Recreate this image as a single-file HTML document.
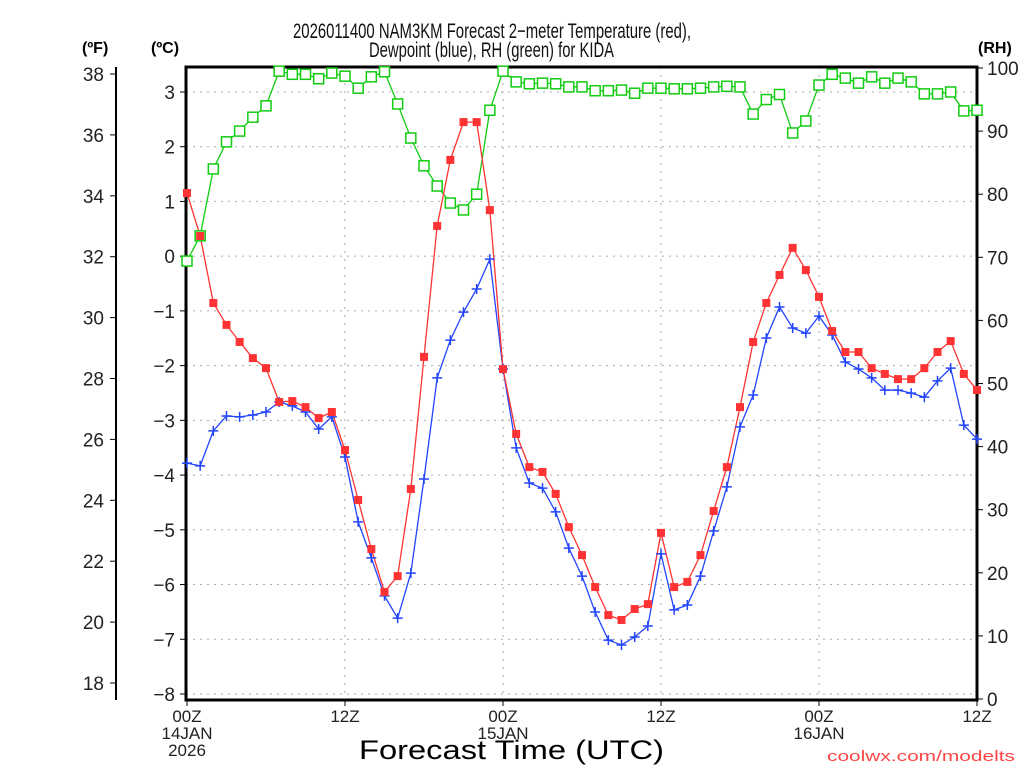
<!DOCTYPE html>
<html><head><meta charset="utf-8"><style>
body{margin:0;background:#fff;}
svg{display:block;font-family:"Liberation Sans",sans-serif;}
</style></head><body>
<svg id="chart" width="1024" height="768" viewBox="0 0 1024 768">
<g id="grid"></g>
<g id="axes"></g>
<g id="series"></g>
<text x="293" y="38" font-size="21" fill="#111" textLength="398" lengthAdjust="spacingAndGlyphs">2026011400 NAM3KM Forecast 2−meter Temperature (red),</text>
<text x="369" y="57" font-size="21" fill="#111" textLength="245" lengthAdjust="spacingAndGlyphs">Dewpoint (blue), RH (green) for KIDA</text>
<text x="82" y="53" font-size="16" font-weight="bold">(ºF)</text>
<text x="151" y="53" font-size="16" font-weight="bold">(ºC)</text>
<text x="978" y="53" font-size="16" font-weight="bold">(RH)</text>
<text x="359" y="759" font-size="27" textLength="305" lengthAdjust="spacingAndGlyphs">Forecast Time (UTC)</text>
<text x="827" y="761" font-size="15" fill="#ff4444" textLength="188" lengthAdjust="spacingAndGlyphs">coolwx.com/modelts</text>
</svg>
<script>
const tempF=[34.09,32.68,30.48,29.76,29.20,28.67,28.34,27.23,27.26,27.06,26.70,26.90,25.65,24.01,22.40,20.99,21.51,24.37,28.71,33.01,35.18,36.42,36.42,33.53,28.31,26.18,25.09,24.93,24.21,23.12,22.20,21.15,20.23,20.07,20.43,20.59,22.93,21.15,21.32,22.20,23.65,25.09,27.06,29.20,30.48,31.40,32.29,31.56,30.68,29.56,28.87,28.87,28.34,28.15,27.98,27.98,28.34,28.87,29.23,28.15,27.62];
const dewF=[25.22,25.13,26.28,26.77,26.74,26.80,26.90,27.23,27.10,26.90,26.34,26.74,25.42,23.29,22.11,20.86,20.13,21.61,24.70,28.02,29.26,30.18,30.94,31.92,28.31,25.72,24.57,24.40,23.62,22.43,21.51,20.33,19.41,19.25,19.51,19.87,22.24,20.40,20.56,21.51,22.99,24.44,26.41,27.46,29.33,30.35,29.66,29.49,30.05,29.43,28.54,28.31,28.02,27.62,27.62,27.52,27.39,27.92,28.34,26.47,26.01];
const rh=[69.4,73.4,84.0,88.3,90.0,92.2,94.0,99.5,99.0,99.0,98.3,99.2,98.7,96.8,98.6,99.4,94.3,88.9,84.5,81.3,78.6,77.5,80.0,93.3,99.5,97.8,97.5,97.6,97.5,97.0,97.0,96.4,96.4,96.5,96.0,96.8,96.8,96.7,96.7,96.8,97.0,97.1,97.0,92.7,95.0,95.8,89.7,91.6,97.3,99.0,98.4,97.6,98.6,97.6,98.4,97.8,95.9,95.9,96.2,93.2,93.3];
const fTicks=[18,20,22,24,26,28,30,32,34,36,38];
const cTicks=[-8,-7,-6,-5,-4,-3,-2,-1,0,1,2,3];
const rhTicks=[0,10,20,30,40,50,60,70,80,90,100];
const xTickHours=[0,12,24,36,48,60];
const xTickLabels=[["00Z","14JAN","2026"],["12Z"],["00Z","15JAN"],["12Z"],["00Z","16JAN"],["12Z"]];
const NS="http://www.w3.org/2000/svg";
const L=186,R=977,T=67,B=700;
const xS=h=>187+h*(790/60);
const yF=f=>683-(f-18)*30.45;
const yC=c=>694-(c+8)*54.73;
const yRH=r=>699-r*6.31;
function mk(p,tag,a){const e=document.createElementNS(NS,tag);for(const k in a)e.setAttribute(k,a[k]);p.appendChild(e);return e;}
const grid=document.getElementById('grid'),axes=document.getElementById('axes'),ser=document.getElementById('series');
cTicks.forEach(c=>{const y=yC(c);
 const g=mk(grid,'line',{x1:L,x2:R,y1:y,y2:y,stroke:'#aaa','stroke-dasharray':'2,5'});
 
 const t=mk(axes,'line',{x1:L-6,x2:L,y1:y,y2:y,stroke:'#000'});
 
 const lb=mk(axes,'text',{x:L-11,y:y+7,'font-size':19,'text-anchor':'end',fill:'#222'});lb.textContent=(c<0?'−':'')+Math.abs(c);
 
});
xTickHours.forEach((h,i)=>{const x=xS(h);
 if(h>0&&h<60){const g=mk(grid,'line',{x1:x,x2:x,y1:T,y2:B,stroke:'#aaa','stroke-dasharray':'2,6'});
 }
 const t=mk(axes,'line',{x1:x,x2:x,y1:B,y2:B+6,stroke:'#000'});
 
 xTickLabels[i].forEach((s,j)=>{const lb=mk(axes,'text',{x:x,y:B+22+j*17,'font-size':17,'text-anchor':'middle',fill:'#222'});lb.textContent=s;
 });
});
fTicks.forEach(f=>{const y=yF(f);
 const t=mk(axes,'line',{x1:110,x2:116,y1:y,y2:y,stroke:'#000'});
 
 const lb=mk(axes,'text',{x:104,y:y+7,'font-size':19,'text-anchor':'end',fill:'#222'});lb.textContent=f;
 
});
rhTicks.forEach(r=>{const y=yRH(r);
 const t=mk(axes,'line',{x1:R,x2:R+6,y1:y,y2:y,stroke:'#000'});
 
 const lb=mk(axes,'text',{x:R+10,y:y+7,'font-size':19,fill:'#222'});lb.textContent=r;
 
});
const fax=mk(axes,'line',{x1:116,x2:116,y1:T,y2:B,stroke:'#000','stroke-width':2});

const frame=mk(axes,'rect',{x:L,y:T,width:R-L,height:B-T,fill:'none',stroke:'#000','stroke-width':3});

function line(vals,yf,col,name){const pts=vals.map((v,i)=>xS(i)+','+yf(v)).join(' ');
 const p=mk(ser,'polyline',{points:pts,fill:'none',stroke:col,'stroke-width':1.3});
 }
line(rh,yRH,'#11cc11','rh-line');
line(dewF,yF,'#2244ff','dewpoint-line');
line(tempF,yF,'#ff3333','temperature-line');
rh.forEach((v,i)=>{const m=mk(ser,'rect',{x:xS(i)-5,y:yRH(v)-5,width:10,height:10,fill:'#fff',stroke:'#11cc11','stroke-width':1.5});
 });
dewF.forEach((v,i)=>{const x=xS(i),y=yF(v);
 const m=mk(ser,'path',{d:`M${x-5},${y}H${x+5}M${x},${y-5}V${y+5}`,stroke:'#2244ff','stroke-width':1.5});
 });
tempF.forEach((v,i)=>{const m=mk(ser,'rect',{x:xS(i)-4,y:yF(v)-4,width:8,height:8,fill:'#ff3333'});
 });
</script>
</body></html>
